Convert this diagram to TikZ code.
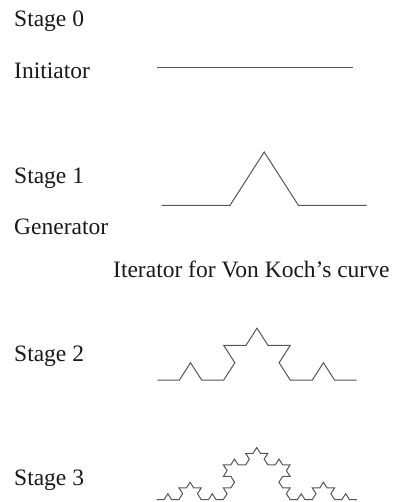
\documentclass[tikz,border=0pt]{standalone}
\usepackage{fontspec}
\setmainfont{Liberation Serif}
\definecolor{curvegray}{RGB}{85,85,85}
\definecolor{textblack}{RGB}{25,25,25}
% build the turtle path of a Koch curve: #1 = stage, #2 = segment length (pt), #3 = macro
\newcommand\buildkochpath[3]{%
  \pgfmathtruncatemacro\kochlast{4^#1-1}%
  \gdef#3{}%
  \foreach \k in {0,...,\kochlast}{%
    \pgfmathtruncatemacro\dA{mod(\k,4)}%
    \pgfmathtruncatemacro\dB{mod(floor(\k/4),4)}%
    \pgfmathtruncatemacro\dC{mod(floor(\k/16),4)}%
    \pgfmathtruncatemacro\kang{60*((\dA==1)-(\dA==2)+(\dB==1)-(\dB==2)+(\dC==1)-(\dC==2))}%
    \xdef#3{#3 -- ++(\kang:#2)}%
  }%
}
\buildkochpath{1}{68.33}{\kochone}
\buildkochpath{2}{22.15}{\kochtwo}
\buildkochpath{3}{7.41}{\kochthree}
\begin{document}
\begin{tikzpicture}[x=1pt,y=-1pt,
  label/.style={anchor=base west,inner sep=0pt,text=textblack,font=\fontsize{23.5}{28}\selectfont},
  curve/.style={draw=curvegray,line width=1pt,line join=miter,y={(0pt,0.9pt)}}]
\useasboundingbox (0,0) rectangle (399,502);
% labels
\node[label] (s0) at (14,27) {Stage 0};
\node[label] (ini) at (14,79) {Initiator};
\node[label] (s1) at (14,183.5) {Stage 1};
\node[label] (gen) at (14,234) {Generator};
\node[label] (it) at (113,277.5) {Iterator for Von Koch’s curve};
\node[label] (s2) at (14,361.5) {Stage 2};
\node[label] (s3) at (14,485) {Stage 3};
% curves
\coordinate (c0a) at (157.3,67.7);
\coordinate (c0b) at (353.3,67.7);
\coordinate (c1) at (161.7,205.3);
\coordinate (c2) at (157.3,380);
\coordinate (c3) at (156.7,499.5);
\draw[curve] (c0a) -- (c0b);
\edef\drawkoch{\noexpand\draw[curve] (c1) \kochone;
  \noexpand\draw[curve] (c2) \kochtwo;
  \noexpand\draw[curve] (c3) \kochthree;}
\drawkoch
\end{tikzpicture}
\end{document}
